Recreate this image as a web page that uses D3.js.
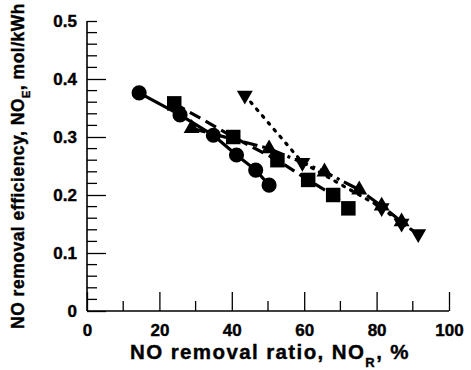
<!DOCTYPE html>
<html>
<head>
<meta charset="utf-8">
<script src="https://cdn.jsdelivr.net/npm/d3@7"></script>
<style>
  body { margin: 0; background: #fff; }
  text { font-family: "Liberation Sans", Arial, sans-serif; font-weight: bold; fill: #000; stroke: #000; stroke-width: 0.4px; }
</style>
</head>
<body>
<svg id="chart" width="471" height="370"></svg>
<script>
// values: [NO removal ratio %, NO removal efficiency mol/kWh]
var circleData = [[14.4,0.376],[25.7,0.338],[34.9,0.303],[41.3,0.269],[46.6,0.243],[50.3,0.217]];
var squareData = [[24.1,0.358],[40.4,0.300],[52.6,0.260],[61.1,0.226],[68.0,0.200],[72.2,0.177]];
var upTriData  = [[28.9,0.315],[50.3,0.280],[65.6,0.240],[75.2,0.209],[81.4,0.181],[86.9,0.154]];
var downTriData = [[43.6,0.372],[59.5,0.256],[81.4,0.178],[86.9,0.151],[91.5,0.133]];

var xTicks = [0,20,40,60,80,100];
var yTicks = [0,0.1,0.2,0.3,0.4,0.5];

var svg = d3.select("#chart");

var x = d3.scaleLinear().domain([0,100]).range([87,449]);
var y = d3.scaleLinear().domain([0,0.5]).range([311,21]);

// axes: ticks point inward, no frame on top/right
var xAxis = d3.axisBottom(x).tickValues(xTicks).tickSize(-19).tickPadding(0).tickFormat(d3.format("d"));
var gx = svg.append("g").attr("transform","translate(0,311)").call(xAxis);
gx.selectAll(".tick text").attr("y",24.5).attr("dy",0).style("font-size","17px");
// minor x ticks
gx.selectAll(".minor").data(d3.range(10,100,20)).enter().append("line")
  .attr("x1",d=>x(d)).attr("x2",d=>x(d)).attr("y1",0).attr("y2",-10)
  .attr("stroke","#000").attr("stroke-width",1.3);

var yAxis = d3.axisLeft(y).tickValues(yTicks).tickSize(-19).tickPadding(10).tickFormat(function(d){ return d===0 ? "0" : d3.format(".1f")(d); });
var gy = svg.append("g").attr("transform","translate(87,0)").call(yAxis);
gy.selectAll(".tick text").style("font-size","17px");
gy.selectAll(".tick line").filter(d=>d===0.5).attr("x2",10);
var yMinor = d3.range(0.02,0.5,0.02).filter(function(v){ return Math.abs(v*10 - Math.round(v*10)) > 0.01; });
gy.selectAll(".minor").data(yMinor).enter().append("line")
  .attr("y1",d=>y(d)).attr("y2",d=>y(d)).attr("x1",0).attr("x2",10)
  .attr("stroke","#000").attr("stroke-width",1.3);

svg.selectAll(".domain").attr("stroke","#000").attr("stroke-width",1.6);
gx.select(".domain").attr("d","M87,0H449");
gy.select(".domain").attr("d","M0,21V311");
svg.selectAll(".tick line").attr("stroke","#000").attr("stroke-width",1.3);

// series lines
var line = d3.line().x(d=>x(d[0])).y(d=>y(d[1]));

function drawSeries(data, dash, shape, rot, size){
  svg.append("path").datum(data).attr("d",line)
    .attr("fill","none").attr("stroke","#000").attr("stroke-width",3.2)
    .attr("stroke-dasharray",dash).attr("stroke-linecap", dash==="2,7" ? "round" : "butt");
  svg.append("g").selectAll("path").data(data).enter().append("path")
    .attr("d", d3.symbol().type(shape).size(size))
    .attr("transform", d=>"translate(" + x(d[0]) + "," + y(d[1]) + ") rotate(" + rot + ")")
    .attr("fill","#000");
}

drawSeries(circleData, null, d3.symbolCircle, 0, 180);
drawSeries(squareData, "12,6", d3.symbolSquare, 0, 210);
drawSeries(upTriData, "14,5,3,5", d3.symbolTriangle, 0, 110);
drawSeries(downTriData, "2,7", d3.symbolTriangle, 180, 110);

// axis titles
var xt = svg.append("text").attr("x",270).attr("y",359).attr("text-anchor","middle")
  .style("font-size","20.5px").style("letter-spacing","1.4px");
xt.append("tspan").text("NO removal ratio, NO");
xt.append("tspan").attr("dy",8).style("font-size","13px").text("R");
xt.append("tspan").attr("dy",-8).text(", %");

var yt = svg.append("text").attr("transform","translate(24,166) rotate(-90)").attr("text-anchor","middle")
  .style("font-size","17.5px").style("letter-spacing","0.5px");
yt.append("tspan").text("NO removal efficiency, NO");
yt.append("tspan").attr("dy",6).style("font-size","11px").text("E");
yt.append("tspan").attr("dy",-6).text(", mol/kWh");
</script>
</body>
</html>
